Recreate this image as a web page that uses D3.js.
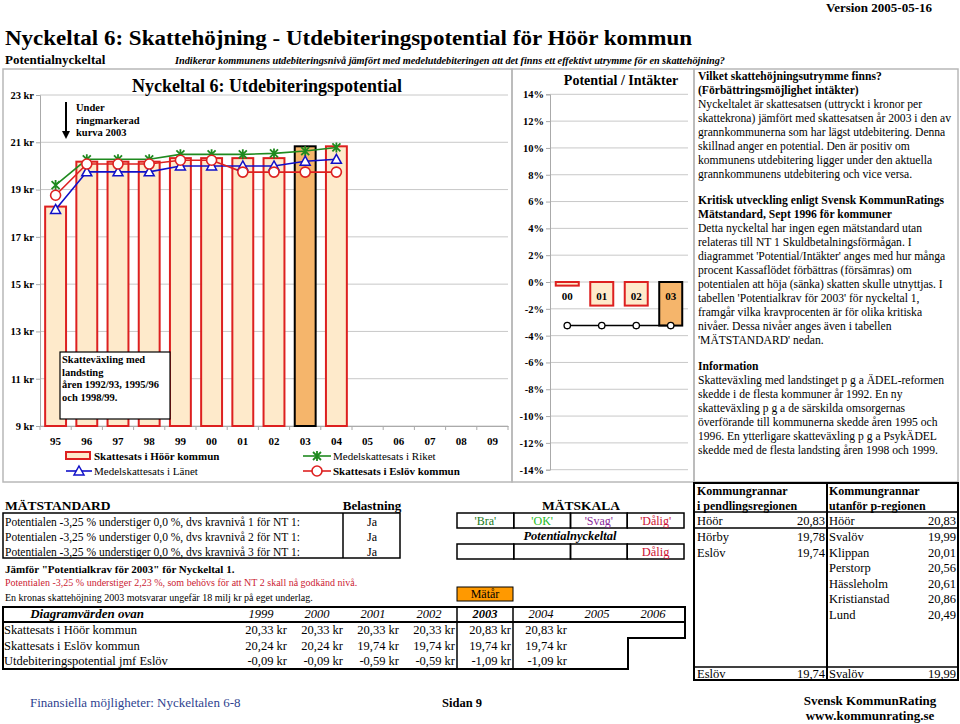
<!DOCTYPE html>
<html><head><meta charset="utf-8">
<script src="https://cdn.jsdelivr.net/npm/d3@7"></script>
<style>
body{margin:0;background:#fff}
svg{font-family:"Liberation Serif","Times New Roman",serif}
</style>
</head><body>
<svg id="c" width="960" height="724"></svg>
<script>
// ---------- DATA ----------
const years = ["95","96","97","98","99","00","01","02","03","04","05","06","07","08","09"];
const hoorTax  = [18.28,20.18,20.18,20.18,20.33,20.33,20.33,20.33,20.83,20.83];
const eslovTax = [18.76,20.08,20.08,20.08,20.24,20.24,19.74,19.74,19.74,19.74];
const riketTax = [19.19,20.28,20.28,20.28,20.49,20.49,20.49,20.53,20.63,20.78];
const lanTax   = [18.16,19.75,19.75,19.75,20.00,20.00,20.00,20.00,20.20,20.28];
const krTicks = [9,11,13,15,17,19,21,23];
const highlightYear = "03";

const potYears = ["00","01","02","03"];
const potValues = [-0.27,-1.76,-1.76,-3.25];
const potLine = [-3.25,-3.25,-3.25,-3.25];
const pctTicks = [-14,-12,-10,-8,-6,-4,-2,0,2,4,6,8,10,12,14];

const diagYears = ["1999","2000","2001","2002","2003","2004","2005","2006"];
const diagRows = [
  ["Skattesats i Höör kommun", ["20,33 kr","20,33 kr","20,33 kr","20,33 kr","20,83 kr","20,83 kr","",""]],
  ["Skattesats i Eslöv kommun", ["20,24 kr","20,24 kr","19,74 kr","19,74 kr","19,74 kr","19,74 kr","",""]],
  ["Utdebiteringspotential jmf Eslöv", ["-0,09 kr","-0,09 kr","-0,59 kr","-0,59 kr","-1,09 kr","-1,09 kr","",""]]
];
const matYear = "2003";

const pendlingHead = ["Kommungrannar","i pendlingsregionen"];
const utanforHead = ["Kommungrannar","utanför p-regionen"];
const ownRow = [["Höör","20,83"],["Höör","20,83"]];
const pendling = [["Hörby","19,78"],["Eslöv","19,74"]];
const utanfor = [["Svalöv","19,99"],["Klippan","20,01"],["Perstorp","20,56"],["Hässleholm","20,61"],["Kristianstad","20,86"],["Lund","20,49"]];
const lowestRow = [["Eslöv","19,74"],["Svalöv","19,99"]];

const matstandardRows = [
  "Potentialen -3,25 % understiger 0,0 %, dvs kravnivå 1 för NT 1:",
  "Potentialen -3,25 % understiger 0,0 %, dvs kravnivå 2 för NT 1:",
  "Potentialen -3,25 % understiger 0,0 %, dvs kravnivå 3 för NT 1:"
];
const belastning = ["Ja","Ja","Ja"];
const matskala = [["'Bra'","#1a7a1a"],["'OK'","#22bb22"],["'Svag'","#8a2a9a"],["'Dålig'","#cc1133"]];

const textBlocks = [
  {bold:["Vilket skattehöjningsutrymme finns?","(Förbättringsmöjlighet intäkter)"],
   body:["Nyckeltalet är skattesatsen (uttryckt i kronor per","skattekrona) jämfört med skattesatsen år 2003 i den av","grannkommunerna som har lägst utdebitering. Denna","skillnad anger en potential. Den är positiv om","kommunens utdebitering ligger under den aktuella","grannkommunens utdebitering och vice versa."]},
  {bold:["Kritisk utveckling enligt Svensk KommunRatings","Mätstandard, Sept 1996 för kommuner"],
   body:["Detta nyckeltal har ingen egen mätstandard utan","relateras till NT 1 Skuldbetalningsförmågan. I","diagrammet 'Potential/Intäkter' anges med hur många","procent Kassaflödet förbättras (försämras) om","potentialen att höja (sänka) skatten skulle utnyttjas. I","tabellen 'Potentialkrav för 2003' för nyckeltal 1,","framgår vilka kravprocenten är för olika kritiska","nivåer. Dessa nivåer anges även i tabellen","'MÄTSTANDARD' nedan."]},
  {bold:["Information"],
   body:["Skatteväxling med landstinget p g a ÄDEL-reformen","skedde i de flesta kommuner år 1992. En ny","skatteväxling p g a de särskilda omsorgernas","överförande till kommunerna skedde åren 1995 och","1996. En ytterligare skatteväxling p g a PsykÄDEL","skedde med de flesta landsting åren 1998 och 1999."]}
];

// ---------- DRAW ----------
const svg = d3.select("#c");
svg.append("rect").attr("width",960).attr("height",724).attr("fill","#fff");

const T = (x,y,s,o={})=>{
  const t = svg.append("text").attr("x",x).attr("y",y).text(s)
    .attr("font-size",o.size||12).attr("fill",o.fill||"#000");
  if(o.bold) t.attr("font-weight","bold");
  if(o.italic) t.attr("font-style","italic");
  if(o.anchor) t.attr("text-anchor",o.anchor);
  if(o.len) t.attr("textLength",o.len).attr("lengthAdjust","spacingAndGlyphs");
  return t;
};

// header
T(932,12,"Version 2005-05-16",{size:13,bold:true,anchor:"end"});
T(5,45,"Nyckeltal 6: Skattehöjning - Utdebiteringspotential för Höör kommun",{size:22,bold:true,len:687});
T(5,64,"Potentialnyckeltal",{size:13,bold:true});
T(175,64,"Indikerar kommunens utdebiteringsnivå jämfört med medelutdebiteringen att det finns ett effektivt utrymme för en skattehöjning?",{size:10.5,bold:true,italic:true,len:550});

// panels
const panelStroke = "#b8b8b8";
[[3,69,509,413],[512,69,182,413],[694,69,264,413]].forEach(p=>{
  svg.append("rect").attr("x",p[0]).attr("y",p[1]).attr("width",p[2]).attr("height",p[3])
    .attr("fill","none").attr("stroke",panelStroke).attr("stroke-width",1.5);
});

// ----- left chart -----
const x = d3.scaleBand().domain(years).range([40,508]).paddingInner(0.33).paddingOuter(0.165);
const y = d3.scaleLinear().domain([9,23]).range([426,95]);
const gL = svg.append("g");
gL.selectAll("line.grid").data(krTicks).join("line")
  .attr("x1",40).attr("x2",508).attr("y1",d=>y(d)).attr("y2",d=>y(d))
  .attr("stroke","#c8c8c8").attr("stroke-width",1);
const yAxis = d3.axisLeft(y).tickValues(krTicks).tickSize(4).tickFormat(d=>d+" kr");
const ya = gL.append("g").attr("transform","translate(40,0)").call(yAxis);
ya.select(".domain").attr("stroke","#aaa");
ya.selectAll(".tick line").attr("stroke","#aaa");
ya.selectAll("text").attr("font-family","Liberation Serif").attr("font-size",10.5).attr("font-weight","bold").attr("fill","#000").attr("x",-6);

const xAxis = d3.axisBottom(x).tickSize(0).tickPadding(11);
const xa = gL.append("g").attr("transform","translate(0,426)").call(xAxis);
xa.select(".domain").attr("stroke","#aaa");
xa.selectAll("text").attr("font-family","Liberation Serif").attr("font-size",11).attr("font-weight","bold").attr("fill","#000");
gL.selectAll("line.bt").data(years.concat(["end"])).join("line")
  .attr("x1",(d,i)=>40+x.step()*i).attr("x2",(d,i)=>40+x.step()*i)
  .attr("y1",426).attr("y2",430).attr("stroke","#aaa");

// bars
gL.selectAll("rect.bar").data(hoorTax).join("rect")
  .attr("x",(d,i)=>x(years[i])).attr("width",x.bandwidth())
  .attr("y",d=>y(d)).attr("height",d=>y(9)-y(d))
  .attr("fill",(d,i)=>years[i]===highlightYear?"#f5b56b":"#feeacb")
  .attr("stroke",(d,i)=>years[i]===highlightYear?"#000":"#dd2020")
  .attr("stroke-width",2);

const cx = i=>x(years[i])+x.bandwidth()/2;
const mkLine = (data,color)=>gL.append("path").datum(data)
  .attr("d",d3.line().x((d,i)=>cx(i)).y(d=>y(d)))
  .attr("fill","none").attr("stroke",color).attr("stroke-width",1.6);
mkLine(riketTax,"#1f8a1f");
mkLine(lanTax,"#1010c8");
mkLine(eslovTax,"#dd2020");
const star = "M-4,-4L4,4M-4,4L4,-4M0,-5L0,5";
const tri = "M0,-5L5,4L-5,4Z";
gL.selectAll("path.st").data(riketTax).join("path")
  .attr("transform",(d,i)=>`translate(${cx(i)},${y(d)})`).attr("d",star)
  .attr("stroke","#1f8a1f").attr("stroke-width",1.8).attr("fill","none");
gL.selectAll("path.tr").data(lanTax).join("path")
  .attr("transform",(d,i)=>`translate(${cx(i)},${y(d)})`).attr("d",tri)
  .attr("stroke","#1010c8").attr("stroke-width",1.5).attr("fill","#fff");
gL.selectAll("circle.ci").data(eslovTax).join("circle")
  .attr("cx",(d,i)=>cx(i)).attr("cy",d=>y(d)).attr("r",5)
  .attr("stroke","#dd2020").attr("stroke-width",1.6).attr("fill","#fff");

// chart title & annotations
T(267,92,"Nyckeltal 6: Utdebiteringspotential",{size:18,bold:true,anchor:"middle"});
gL.append("line").attr("x1",66).attr("x2",66).attr("y1",102).attr("y2",132).attr("stroke","#000").attr("stroke-width",2);
gL.append("path").attr("d","M62,131L70,131L66,139Z").attr("fill","#000");
["Under","ringmarkerad","kurva 2003"].forEach((s,i)=>T(76,111+i*12.7,s,{size:10.5,bold:true}));
gL.append("rect").attr("x",60).attr("y",352).attr("width",110).attr("height",67)
  .attr("fill","#fff").attr("stroke","#000").attr("stroke-width",1.2);
["Skatteväxling med","landsting","åren 1992/93, 1995/96","och 1998/99."].forEach((s,i)=>T(62,363+i*12.7,s,{size:10.5,bold:true}));

// legend
gL.append("rect").attr("x",66).attr("y",452).attr("width",24).attr("height",7)
  .attr("fill","#feeacb").attr("stroke","#dd2020").attr("stroke-width",2);
T(94,460,"Skattesats i Höör kommun",{size:11,bold:true});
gL.append("line").attr("x1",303).attr("x2",331).attr("y1",456).attr("y2",456).attr("stroke","#1f8a1f").attr("stroke-width",1.6);
gL.append("path").attr("transform","translate(317,456)").attr("d",star).attr("stroke","#1f8a1f").attr("stroke-width",1.8);
T(333,460,"Medelskattesats i Riket",{size:11});
gL.append("line").attr("x1",66).attr("x2",92).attr("y1",471).attr("y2",471).attr("stroke","#1010c8").attr("stroke-width",1.6);
gL.append("path").attr("transform","translate(79,471)").attr("d",tri).attr("stroke","#1010c8").attr("stroke-width",1.5).attr("fill","#fff");
T(94,475,"Medelskattesats i Länet",{size:11});
gL.append("line").attr("x1",303).attr("x2",331).attr("y1",471).attr("y2",471).attr("stroke","#dd2020").attr("stroke-width",1.6);
gL.append("circle").attr("cx",317).attr("cy",471).attr("r",5).attr("stroke","#dd2020").attr("stroke-width",1.6).attr("fill","#fff");
T(333,475,"Skattesats i Eslöv kommun",{size:11,bold:true});

// ----- middle chart -----
const x2 = d3.scaleBand().domain(potYears).range([550,688]).paddingInner(0.333).paddingOuter(0.167);
const y2 = d3.scaleLinear().domain([-14,14]).range([469.7,94.3]);
const gM = svg.append("g");
gM.selectAll("line").data(pctTicks).join("line")
  .attr("x1",550).attr("x2",688).attr("y1",d=>y2(d)).attr("y2",d=>y2(d))
  .attr("stroke","#c8c8c8");
const ya2 = gM.append("g").attr("transform","translate(550,0)")
  .call(d3.axisLeft(y2).tickValues(pctTicks).tickSize(4).tickFormat(d=>d+"%"));
ya2.select(".domain").attr("stroke","#aaa");
ya2.selectAll(".tick line").attr("stroke","#aaa");
ya2.selectAll("text").attr("font-family","Liberation Serif").attr("font-size",10.5).attr("font-weight","bold").attr("fill","#000").attr("x",-6);
gM.selectAll("rect").data(potValues).join("rect")
  .attr("x",(d,i)=>x2(potYears[i])).attr("width",x2.bandwidth())
  .attr("y",d=>y2(Math.max(0,d))).attr("height",d=>Math.abs(y2(d)-y2(0)))
  .attr("fill",(d,i)=>potYears[i]===highlightYear?"#f5b56b":"#feeacb")
  .attr("stroke",(d,i)=>potYears[i]===highlightYear?"#000":"#dd2020")
  .attr("stroke-width",2);
const cx2 = i=>x2(potYears[i])+x2.bandwidth()/2;
gM.selectAll("text.cat").data(potYears).join("text")
  .attr("x",(d,i)=>cx2(i)).attr("y",y2(0)+18).attr("text-anchor","middle")
  .attr("font-size",11).attr("font-weight","bold").text(d=>d);
gM.append("path").datum(potLine).attr("d",d3.line().x((d,i)=>cx2(i)).y(d=>y2(d)))
  .attr("fill","none").attr("stroke","#000").attr("stroke-width",1.6);
gM.selectAll("circle").data(potLine).join("circle")
  .attr("cx",(d,i)=>cx2(i)).attr("cy",d=>y2(d)).attr("r",3.2)
  .attr("fill","#fff").attr("stroke","#000").attr("stroke-width",1.3);
T(621,85,"Potential / Intäkter",{size:14,bold:true,anchor:"middle"});

// ----- right text panel -----
let ty = 80;
textBlocks.forEach((b,bi)=>{
  b.bold.forEach(s=>{T(698,ty,s,{size:11.6,bold:true}); ty+=14;});
  b.body.forEach(s=>{T(698,ty,s,{size:11.6}); ty+=14;});
  ty+=12;
});

// ----- bottom left -----
T(5,510,"MÄTSTANDARD",{size:13.5,bold:true});
T(372,510,"Belastning",{size:13,bold:true,anchor:"middle"});
T(581,510,"MÄTSKALA",{size:13.5,bold:true,anchor:"middle"});
svg.append("rect").attr("x",3).attr("y",513).attr("width",397).attr("height",45).attr("fill","none").attr("stroke","#000").attr("stroke-width",1.5);
svg.append("line").attr("x1",343).attr("x2",343).attr("y1",513).attr("y2",558).attr("stroke","#000").attr("stroke-width",1.5);
matstandardRows.forEach((s,i)=>{
  T(5,526+i*15,s,{size:11.5});
  T(372,526+i*15,belastning[i],{size:12,anchor:"middle"});
});
const ms = d3.scaleBand().domain(matskala.map(d=>d[0])).range([457,684]);
[513,544].forEach(yy=>{
  svg.selectAll(null).data(matskala).join("rect")
    .attr("x",d=>ms(d[0])).attr("y",yy).attr("width",ms.bandwidth()).attr("height",15)
    .attr("fill","none").attr("stroke","#000").attr("stroke-width",1.5);
});
matskala.forEach(d=>T(ms(d[0])+ms.bandwidth()/2,525,d[0],{size:12,fill:d[1],anchor:"middle"}));
T(570,540,"Potentialnyckeltal",{size:12.5,bold:true,italic:true,anchor:"middle"});
T(ms("'Dålig'")+ms.bandwidth()/2,556,"Dålig",{size:12.5,fill:"#cc1133",anchor:"middle"});
T(5,573,'Jämför "Potentialkrav för 2003" för Nyckeltal 1.',{size:11,bold:true});
T(5,586,"Potentialen -3,25 % understiger 2,23 %, som behövs för att NT 2 skall nå godkänd nivå.",{size:10,fill:"#cc2233"});
T(5,601,"En kronas skattehöjning 2003 motsvarar ungefär 18 milj kr på eget underlag.",{size:10});

// Diagramvärden table
const dc = d3.scaleBand().domain(diagYears).range([233,681]);
svg.append("rect").attr("x",dc(matYear)).attr("y",587).attr("width",dc.bandwidth()).attr("height",14)
  .attr("fill","#ff9900").attr("stroke","#000").attr("stroke-width",1);
T(dc(matYear)+dc.bandwidth()/2,598,"Mätår",{size:12,anchor:"middle"});
const tb = svg.append("g").attr("fill","none").attr("stroke","#000");
tb.append("path").attr("d","M3,607H685V638H628V669H3Z").attr("stroke-width",2);
tb.append("line").attr("x1",3).attr("x2",685).attr("y1",622).attr("y2",622).attr("stroke-width",2);
tb.append("line").attr("x1",dc(matYear)).attr("x2",dc(matYear)).attr("y1",607).attr("y2",669).attr("stroke-width",1.5);
tb.append("line").attr("x1",dc(matYear)+dc.bandwidth()).attr("x2",dc(matYear)+dc.bandwidth()).attr("y1",607).attr("y2",669).attr("stroke-width",1.5);
T(87,618,"Diagramvärden ovan",{size:13,bold:true,italic:true,anchor:"middle"});
diagYears.forEach(yr=>T(dc(yr)+dc.bandwidth()/2,618,yr,{size:12.5,italic:true,bold:yr===matYear,anchor:"middle"}));
diagRows.forEach((r,i)=>{
  const yy = 634+i*15.5;
  T(4,yy,r[0],{size:12.5});
  r[1].forEach((v,j)=>{ if(v) T(dc(diagYears[j])+dc.bandwidth()-2,yy,v,{size:12.5,anchor:"end"}); });
});

// footer
T(30,707,"Finansiella möjligheter: Nyckeltalen 6-8",{size:13,fill:"#2e3f8f"});
T(462,707,"Sidan 9",{size:12.5,bold:true,anchor:"middle"});
T(870,705,"Svensk KommunRating",{size:13,bold:true,anchor:"middle"});
T(870,720,"www.kommunrating.se",{size:13,bold:true,anchor:"middle"});

// Kommungrannar table
const kg = svg.append("g").attr("fill","none").attr("stroke","#000");
kg.append("rect").attr("x",694).attr("y",483).attr("width",264).attr("height",197).attr("stroke-width",2);
kg.append("line").attr("x1",827).attr("x2",827).attr("y1",483).attr("y2",680).attr("stroke-width",2);
[512,528,667].forEach(yy=>kg.append("line").attr("x1",694).attr("x2",958).attr("y1",yy).attr("y2",yy).attr("stroke-width",1.5));
pendlingHead.forEach((s,i)=>T(697,495+i*14.5,s,{size:12,bold:true}));
utanforHead.forEach((s,i)=>T(829,495+i*14.5,s,{size:12,bold:true}));
const cellRow = (pair,yy,col)=>{
  const x0 = col===0?697:829, x1 = col===0?825:956;
  T(x0,yy,pair[0],{size:12.5}); T(x1,yy,pair[1],{size:12.5,anchor:"end"});
};
cellRow(ownRow[0],525,0); cellRow(ownRow[1],525,1);
pendling.forEach((p,i)=>cellRow(p,541+i*15.5,0));
utanfor.forEach((p,i)=>cellRow(p,541+i*15.5,1));
cellRow(lowestRow[0],678,0); cellRow(lowestRow[1],678,1);
</script>
</body></html>
